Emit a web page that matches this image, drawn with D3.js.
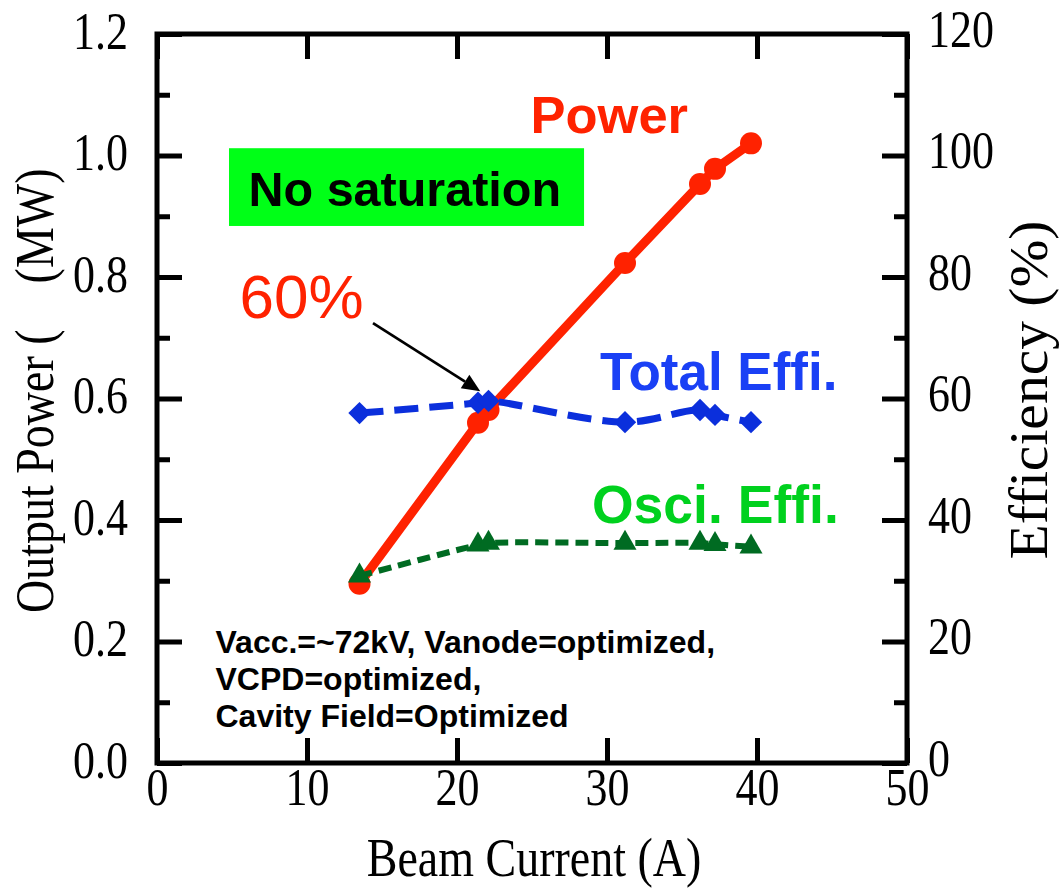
<!DOCTYPE html>
<html>
<head>
<meta charset="utf-8">
<script src="https://cdn.jsdelivr.net/npm/d3@7"></script>
<style>
  html, body { margin: 0; padding: 0; background: #fff; }
  svg { display: block; }
</style>
</head>
<body>
<svg id="chart" width="1059" height="891"></svg>
<script>
// Measured points: beam current (A), output power (MW), efficiencies (%)
const beamCurrent = [13.5, 21.4, 22.1, 31.2, 36.2, 37.2, 39.6];
const outputPower = [0.295, 0.56, 0.581, 0.823, 0.953, 0.978, 1.02];
const totalEff    = [57.6, 59.3, 59.6, 56.1, 58.1, 57.3, 56.1];
const osciEff     = [30.8, 35.9, 36.2, 36.2, 36.2, 36.0, 35.6];

// Tick values
const xTicks      = [0, 10, 20, 30, 40, 50];
const powerTicks  = [0, 0.2, 0.4, 0.6, 0.8, 1.0, 1.2];
const powerMinor  = [0.1, 0.3, 0.5, 0.7, 0.9, 1.1];
const effTicks    = [0, 20, 40, 60, 80, 100, 120];
const effMinor    = [10, 30, 50, 70, 90, 110];

const conditionLines = [
  "Vacc.=~72kV, Vanode=optimized,",
  "VCPD=optimized,",
  "Cavity Field=Optimized"
];

const svg = d3.select("#chart");
svg.append("rect").attr("width", 1059).attr("height", 891).attr("fill", "#fff");

const plot = { left: 157, right: 907, top: 34, bottom: 763 };
const x  = d3.scaleLinear().domain([0, 50]).range([plot.left, plot.right]);
const yP = d3.scaleLinear().domain([0, 1.2]).range([plot.bottom, plot.top]);
const yE = d3.scaleLinear().domain([0, 120]).range([plot.bottom, plot.top]);

const RED = "#ff2200", BLUE = "#0b2fdc", DKGREEN = "#006b22";
const SERIF = "'Liberation Serif', 'Times New Roman', serif";
const SANS = "'Liberation Sans', Arial, Helvetica, sans-serif";
const STRETCH = 1.2;   // serif glyphs drawn slightly taller than wide

function cleanAxis(g) {
  g.select(".domain").remove();
  g.selectAll(".tick line").attr("stroke", "#000").attr("stroke-width", 5);
}
function serifTicks(g, yOffset) {
  g.selectAll(".tick text")
    .attr("font-family", SERIF)
    .attr("font-size", 44)
    .attr("fill", "#000")
    .attr("dy", null)
    .attr("y", yOffset / STRETCH)
    .attr("transform", `scale(1,${STRETCH})`);
}

// Left axis: output power
svg.append("g").attr("transform", `translate(${plot.left},0)`)
  .call(d3.axisLeft(yP).tickValues(powerMinor).tickSize(-13).tickFormat(""))
  .call(cleanAxis);
svg.append("g").attr("transform", `translate(${plot.left},0)`)
  .call(d3.axisLeft(yP).tickValues(powerTicks).tickSize(-25).tickPadding(29).tickFormat(d3.format(".1f")))
  .call(cleanAxis).call(g => serifTicks(g, 14));

// Right axis: efficiency
svg.append("g").attr("transform", `translate(${plot.right},0)`)
  .call(d3.axisRight(yE).tickValues(effMinor).tickSize(-13).tickFormat(""))
  .call(cleanAxis);
svg.append("g").attr("transform", `translate(${plot.right},0)`)
  .call(d3.axisRight(yE).tickValues(effTicks).tickSize(-25).tickPadding(21).tickFormat(d3.format("d")))
  .call(cleanAxis).call(g => serifTicks(g, 12));

// Bottom and top axes: beam current
svg.append("g").attr("transform", `translate(0,${plot.bottom})`)
  .call(d3.axisBottom(x).tickValues(xTicks).tickSize(-25).tickFormat(d3.format("d")))
  .call(cleanAxis).call(g => serifTicks(g, 42));
svg.append("g").attr("transform", `translate(0,${plot.top})`)
  .call(d3.axisTop(x).tickValues(xTicks).tickSize(-25).tickFormat(""))
  .call(cleanAxis);

// Frame
svg.append("rect")
  .attr("x", plot.left).attr("y", plot.top)
  .attr("width", plot.right - plot.left).attr("height", plot.bottom - plot.top)
  .attr("fill", "none").attr("stroke", "#000").attr("stroke-width", 5);

// Axis titles
function serifTitle(px, py, rot, anchor, txt, sx) {
  svg.append("g")
    .attr("transform", `translate(${px},${py}) rotate(${rot}) scale(${sx || 1},${STRETCH})`)
    .append("text")
    .attr("text-anchor", anchor)
    .attr("font-family", SERIF).attr("font-size", 46).attr("fill", "#000")
    .text(txt);
}
serifTitle((plot.left + plot.right) / 2 + 2, 876, 0, "middle", "Beam Current (A)");
serifTitle(53, 613, -90, "start", "Output Power (\u2003(MW)");
serifTitle(1047, 390, -90, "middle", "Efficiency (%)", 1.25);

// Series
const pts = (ys, yScale) => beamCurrent.map((c, i) => [x(c), yScale(ys[i])]);

const powerPts = pts(outputPower, yP);
svg.append("path")
  .attr("d", d3.line().curve(d3.curveLinear)(powerPts))
  .attr("fill", "none").attr("stroke", RED).attr("stroke-width", 9)
  .attr("stroke-linejoin", "round");
svg.append("g").selectAll("circle").data(powerPts).join("circle")
  .attr("cx", d => d[0]).attr("cy", d => d[1]).attr("r", 11).attr("fill", RED);

const totalPts = pts(totalEff, yE);
svg.append("path")
  .attr("d", d3.line().curve(d3.curveCatmullRom.alpha(0.5))(totalPts))
  .attr("fill", "none").attr("stroke", BLUE).attr("stroke-width", 7)
  .attr("stroke-dasharray", "24 11");
svg.append("g").selectAll("path").data(totalPts).join("path")
  .attr("transform", d => `translate(${d[0]},${d[1]}) rotate(45)`)
  .attr("d", d3.symbol(d3.symbolSquare, 250)())
  .attr("fill", BLUE);

const osciPts = pts(osciEff, yE);
svg.append("path")
  .attr("d", d3.line().curve(d3.curveCatmullRom.alpha(0.5))(osciPts))
  .attr("fill", "none").attr("stroke", DKGREEN).attr("stroke-width", 6)
  .attr("stroke-dasharray", "13 7");
svg.append("g").selectAll("path").data(osciPts).join("path")
  .attr("transform", d => `translate(${d[0]},${d[1]})`)
  .attr("d", d3.symbol(d3.symbolTriangle, 230)())
  .attr("fill", DKGREEN);

// Annotations
function label(cx, py, txt, size, weight, color) {
  return svg.append("text")
    .attr("x", cx).attr("y", py)
    .attr("font-family", SANS).attr("font-size", size)
    .attr("font-weight", weight).attr("fill", color)
    .text(txt);
}

label(x(24.9), yP(1.037), "Power", 52.5, "bold", RED);

svg.append("rect")
  .attr("x", x(4.8)).attr("y", yP(1.012))
  .attr("width", x(28.47) - x(4.8)).attr("height", yP(0.884) - yP(1.012))
  .attr("fill", "#00ff17");
label(x(6.1), yP(0.917), "No saturation", 48.5, "bold", "#000");

label(x(5.5), yP(0.733), "60%", 62, "normal", RED);

// Arrow pointing at the 60 % efficiency point
const a0 = [x(14.4), yP(0.724)], a1 = [x(21.55), yP(0.612)];
const ang = Math.atan2(a1[1] - a0[1], a1[0] - a0[0]);
const headLen = 18, headHalf = 8;
const base = [a1[0] - headLen * Math.cos(ang), a1[1] - headLen * Math.sin(ang)];
svg.append("line")
  .attr("x1", a0[0]).attr("y1", a0[1]).attr("x2", base[0]).attr("y2", base[1])
  .attr("stroke", "#000").attr("stroke-width", 2.7);
svg.append("path")
  .attr("d", d3.line()([
    a1,
    [base[0] + headHalf * Math.sin(ang), base[1] - headHalf * Math.cos(ang)],
    [base[0] - headHalf * Math.sin(ang), base[1] + headHalf * Math.cos(ang)]
  ]) + "Z")
  .attr("fill", "#000");

label(x(29.53), yE(61.4), "Total Effi.", 53, "bold", "#1a40f5");
label(x(29.0), yE(39.5), "Osci. Effi.", 53.5, "bold", "#00d11e");

const condY = [0.181, 0.120, 0.059];
conditionLines.forEach((t, i) => label(x(3.9), yP(condY[i]), t, 32, "bold", "#000"));
</script>
</body>
</html>
